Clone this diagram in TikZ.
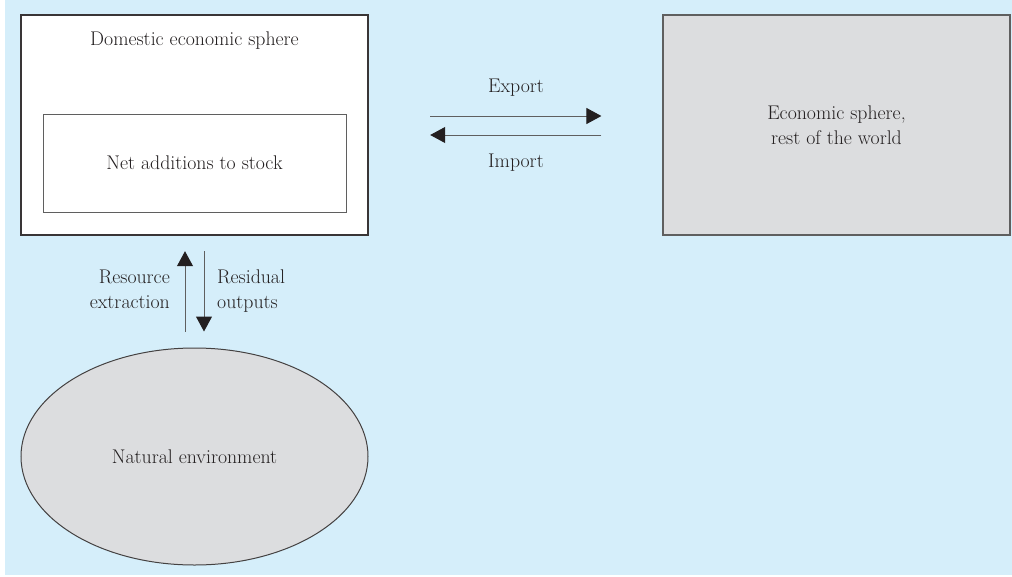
\documentclass[tikz,border=0pt]{standalone}
\usetikzlibrary{arrows.meta,shapes.geometric}

\definecolor{bgblue}{RGB}{213,238,250}
\definecolor{boxgray}{RGB}{220,221,223}
\definecolor{ink}{RGB}{35,31,32}
\definecolor{linegray}{RGB}{95,95,95}

\tikzset{
  label text/.style={text=ink, inner sep=0pt},
  outer frame/.style={draw=ink!90, line width=2.4pt, fill=white, inner sep=0pt},
  inner frame/.style={draw=linegray, line width=1pt, fill=white, inner sep=0pt, text=ink},
  world box/.style={draw=linegray, line width=1.2pt, fill=boxgray, inner sep=0pt, text=ink, align=center},
  nature/.style={ellipse, draw=ink!85, line width=1pt, fill=boxgray, inner sep=0pt, text=ink},
  flow/.style={draw=linegray, line width=1pt,
    -{Triangle[length=15pt,width=16pt,color=ink]}},
}

\begin{document}
\begin{tikzpicture}[x=1pt, y=-1pt, font=\fontsize{19.8}{24.5}\selectfont]
\useasboundingbox (0,0) rectangle (1012,576);
\fill[bgblue] (5,0) rectangle (1012,575);

% domestic economy with its stock
\node[outer frame, minimum width=347pt, minimum height=220pt] (dom) at (194.5,125) {};
\node[label text, anchor=base] (domlbl) at (194.5,45) {Domestic economic sphere};
\node[inner frame, minimum width=303pt, minimum height=98pt] (stock) at (194.5,163) {Net additions to stock};

% rest of the world
\node[world box, minimum width=347pt, minimum height=220pt] (row) at (836.5,125)
  {Economic sphere,\\rest of the world};

% natural environment
\node[nature, minimum width=347pt, minimum height=217pt] (nat) at (194.5,456.5) {Natural environment};

% trade flows
\draw[flow, shorten <=61pt, shorten >=61pt] ([yshift=9pt]dom.east) -- ([yshift=9pt]row.west);
\draw[flow, shorten <=61pt, shorten >=61pt] ([yshift=-10pt]row.west) -- ([yshift=-10pt]dom.east);
\node[label text, anchor=base] (explbl) at (516,92) {Export};
\node[label text, anchor=base] (implbl) at (516,167) {Import};

% material flows with nature
\draw[flow, shorten <=16pt, shorten >=15pt] ([xshift=-9.5pt]nat.north) -- ([xshift=-9.5pt]dom.south);
\draw[flow, shorten <=15pt, shorten >=16pt] ([xshift=9.5pt]dom.south) -- ([xshift=9.5pt]nat.north);
\node[label text, anchor=base east, align=right] (reslbl) at (170,308) {Resource\\extraction};
\node[label text, anchor=base west, align=left] (outlbl) at (217,308) {Residual\\outputs};
\end{tikzpicture}
\end{document}
